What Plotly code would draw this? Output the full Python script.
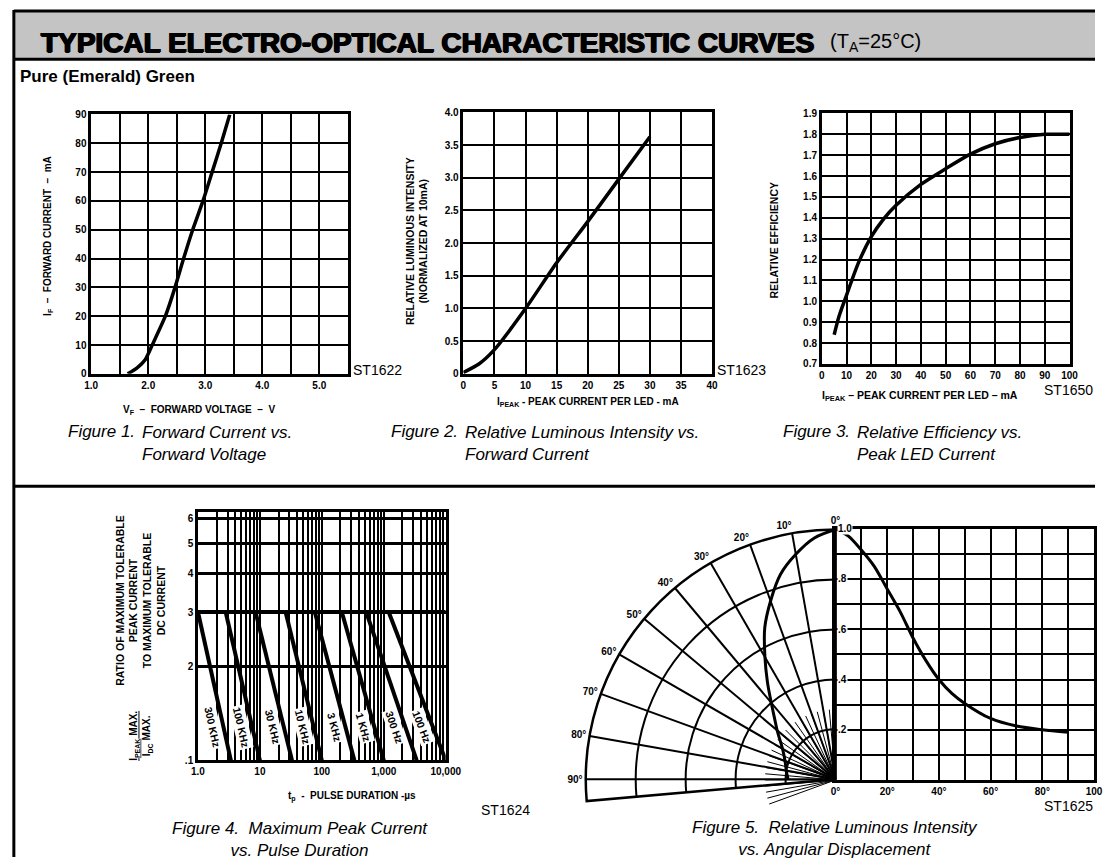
import math
import plotly.graph_objects as go

W, H = 1111, 863
FONT = "Liberation Sans"
NB = "\u00a0"

# ---------------- data ----------------
# Figure 1: forward current vs forward voltage
fig1_voltage = [1.64, 1.80, 1.95, 2.07, 2.30, 2.47, 2.62, 2.78, 2.96, 3.12, 3.28, 3.43]
fig1_current = [0, 2, 5, 10, 20, 30, 40, 50, 60, 70, 80, 90]
fig1_xticks = [1.0, 2.0, 3.0, 4.0, 5.0]
fig1_xlabels = ["1.0", "2.0", "3.0", "4.0", "5.0"]

# Figure 2: relative luminous intensity vs peak current
fig2_current = [0, 2.5, 5, 10, 15, 20, 25, 30]
fig2_intensity = [0.02, 0.15, 0.37, 1.0, 1.70, 2.33, 2.98, 3.63]
fig2_ylabels = ["0", "0.5", "1.0", "1.5", "2.0", "2.5", "3.0", "3.5", "4.0"]

# Figure 3: relative efficiency vs peak current
fig3_current = [5, 7, 10, 15, 20, 25, 30, 40, 50, 60, 70, 80, 90, 100]
fig3_eff = [0.84, 0.93, 1.03, 1.19, 1.31, 1.395, 1.46, 1.56, 1.635, 1.705, 1.755, 1.785, 1.80, 1.80]

# Figure 4: max peak current ratio vs pulse duration
pulse_freq_labels = ["300 KHz", "100 KHz", "30 KHz", "10 KHz", "3 KHz", "1 KHz", "300 Hz", "100 Hz"]
pulse_t_start = [1.0, 2.8, 8.5, 26, 77, 210, 520, 1200]
pulse_t_end = [3.4, 10, 33, 100, 335, 1000, 3400, 10000]
ratio_start = 3.0
ratio_end = 1.0
fig4_xlabels = ["1.0", "10", "100", "1,000", "10,000"]
fig4_yvals = [1, 2, 3, 4, 5, 6]
fig4_ylabels = [".1", "2", "3", "4", "5", "6"]

# Figure 5: relative luminous intensity vs angular displacement
angle_deg = [0, 5, 10, 15, 20, 25, 30, 35, 40, 45, 50, 60, 70, 80, 90]
rel_intensity = [1.0, 0.97, 0.915, 0.85, 0.76, 0.67, 0.565, 0.475, 0.40, 0.345, 0.305, 0.245, 0.215, 0.20, 0.19]
fig5_ylabel_vals = [0.2, 0.4, 0.6, 0.8, 1.0]
fig5_ylabels = [".2", ".4", ".6", ".8", "1.0"]


# ---------------- helpers ----------------
def dx(x):
    return x / W


def dy(y):
    return 1 - y / H


def tfont(size=10, bold=True, italic=False):
    return dict(family=FONT, size=size, color="black",
                weight="bold" if bold else "normal",
                style="italic" if italic else "normal")


def ann(text, x, y, size=10, bold=True, italic=False, xanchor="center",
        yanchor="middle", angle=0, align="center"):
    return dict(text=text, x=dx(x), y=dy(y), xref="paper", yref="paper",
                showarrow=False, font=tfont(size, bold, italic),
                xanchor=xanchor, yanchor=yanchor, textangle=angle, align=align)


def axis(domain_px, horizontal, **kw):
    a, b = domain_px
    dom = [dx(a), dx(b)] if horizontal else [dy(b), dy(a)]
    base = dict(domain=dom, showline=True, mirror=True, linecolor="black",
                linewidth=2.5, showgrid=True, gridcolor="black", gridwidth=2,
                zeroline=False, ticks="", tickfont=tfont(10), fixedrange=True)
    base.update(kw)
    return base


def sp(s):
    return s.replace(" – ", NB + NB + "–" + NB + NB).replace(" - ", NB + NB + "-" + NB + NB)


fig = go.Figure()
LINE = dict(color="black", width=3.5)

# Figure 1
fig.add_trace(go.Scatter(x=fig1_voltage, y=fig1_current, mode="lines",
                         line=dict(shape="spline", smoothing=0.6, **LINE),
                         xaxis="x", yaxis="y"))
# Figure 2
fig.add_trace(go.Scatter(x=fig2_current, y=fig2_intensity, mode="lines",
                         line=dict(shape="spline", smoothing=0.6, **LINE),
                         xaxis="x2", yaxis="y2"))
# Figure 3
fig.add_trace(go.Scatter(x=fig3_current, y=fig3_eff, mode="lines",
                         line=dict(shape="spline", smoothing=0.8, **LINE),
                         xaxis="x3", yaxis="y3"))
# Figure 4
fig.add_trace(go.Scatter(x=[pulse_t_start[0], 10000], y=[ratio_start, ratio_start],
                         mode="lines", line=dict(color="black", width=4),
                         xaxis="x4", yaxis="y4"))
for ts, te in zip(pulse_t_start, pulse_t_end):
    fig.add_trace(go.Scatter(x=[ts, te], y=[ratio_start, ratio_end], mode="lines",
                             line=dict(color="black", width=4),
                             xaxis="x4", yaxis="y4"))
# Figure 5
fig.add_trace(go.Scatterpolar(theta=[], r=[], subplot="polar2", mode="lines"))
fig.add_trace(go.Scatterpolar(theta=angle_deg, r=rel_intensity, mode="lines",
                              line=dict(color="black", width=3, shape="spline"),
                              subplot="polar"))
fig.add_trace(go.Scatter(x=angle_deg, y=rel_intensity, mode="lines",
                         line=dict(shape="spline", smoothing=0.8, color="black", width=3),
                         xaxis="x5", yaxis="y5"))

# ---------------- axes ----------------
f1_xt = [1.0 + 0.5 * i for i in range(10)]
f1_xl = [fig1_xlabels[fig1_xticks.index(v)] if v in fig1_xticks else "" for v in f1_xt]

f4_xt = [m * 10 ** d for d in range(4) for m in range(1, 10)] + [10000]
f4_xl = [fig4_xlabels[int(round(math.log10(v)))] if abs(math.log10(v) - round(math.log10(v))) < 1e-9 else ""
         for v in f4_xt]

f5_xt = list(range(0, 101, 10))
f5_xl = [("0°" if v == 0 else "100" if v == 100 else f"{v}°") if v % 20 == 0 else "" for v in f5_xt]

OX, OY = 846, 785   # polar origin (px)
R5 = 255            # polar radius (px)
RF = 72             # inner fan radius (px)
fig.update_layout(
    width=W, height=H, margin=dict(l=0, r=0, t=0, b=0),
    paper_bgcolor="white", plot_bgcolor="white", showlegend=False,
    xaxis=axis((86, 348), True, anchor="y", range=[1.0, 5.5], tickmode="array",
               tickvals=f1_xt, ticktext=f1_xl),
    yaxis=axis((110, 373), False, anchor="x", range=[0, 90], dtick=10),
    xaxis2=axis((466, 720), True, anchor="y2", range=[0, 40], dtick=5),
    yaxis2=axis((108, 373), False, anchor="x2", range=[0, 4.0], tickmode="array",
                tickvals=[0.5 * i for i in range(9)], ticktext=fig2_ylabels),
    xaxis3=axis((832, 1085), True, anchor="y3", range=[0, 100], dtick=10),
    yaxis3=axis((109, 363), False, anchor="x3", range=[0.7, 1.9], dtick=0.1,
                tickformat=".1f"),
    xaxis4=axis((195, 448), True, anchor="y4", type="log", range=[0, 4],
                tickmode="array", tickvals=f4_xt, ticktext=f4_xl, gridwidth=1.5),
    yaxis4=axis((513, 765), False, anchor="x4", type="log",
                range=[0, math.log10(6.3)], tickmode="array", tickvals=fig4_yvals,
                ticktext=fig4_ylabels, gridwidth=2.5),
    xaxis5=axis((OX, 1110), True, anchor="y5", range=[0, 100], tickmode="array",
                tickvals=f5_xt, ticktext=f5_xl),
    yaxis5=axis((OY - R5, OY), False, anchor="x5", range=[0, 1.0], dtick=0.1,
                showticklabels=False),
    polar=dict(
        domain=dict(x=[dx(OX - R5), dx(OX)],
                    y=[dy(OY + R5 * math.sin(math.radians(5))), dy(OY - R5)]),
        sector=[90, 185], bgcolor="rgba(0,0,0,0)",
        angularaxis=dict(rotation=90, direction="counterclockwise", tickmode="array",
                         tickvals=list(range(0, 100, 10)),
                         ticktext=[f"{a}°" for a in range(0, 100, 10)],
                         showline=True, linecolor="black", linewidth=2.5,
                         gridcolor="black", gridwidth=1.5, ticks="", tickfont=tfont(10)),
        radialaxis=dict(range=[0, 1], tickvals=[0.2, 0.4, 0.6, 0.8, 1.0],
                        showticklabels=False, ticks="", showline=False,
                        gridcolor="black", gridwidth=1.5),
    ),
    polar2=dict(
        domain=dict(x=[dx(OX - RF), dx(OX)],
                    y=[dy(OY + RF * math.sin(math.radians(20))), dy(OY - RF)]),
        sector=[90, 200], bgcolor="rgba(0,0,0,0)",
        angularaxis=dict(rotation=90, direction="counterclockwise", tickmode="array",
                         tickvals=list(range(0, 115, 5)), showticklabels=False,
                         showline=False, gridcolor="black", gridwidth=1.2, ticks=""),
        radialaxis=dict(range=[0, 1], showgrid=False, showticklabels=False,
                        showline=False, ticks=""),
    ),
)

# ---------------- frame shapes ----------------
shapes = [
    dict(type="rect", xref="paper", yref="paper", x0=dx(7), x1=dx(1111), y0=dy(54), y1=dy(5),
         fillcolor="#c4c4c4", line=dict(width=0), layer="below"),
    dict(type="line", xref="paper", yref="paper", x0=dx(7), x1=dx(1111), y0=dy(5), y1=dy(5),
         line=dict(color="black", width=3)),
    dict(type="line", xref="paper", yref="paper", x0=dx(7), x1=dx(1111), y0=dy(54), y1=dy(54),
         line=dict(color="black", width=3)),
    dict(type="line", xref="paper", yref="paper", x0=dx(7), x1=dx(7), y0=dy(4), y1=dy(863),
         line=dict(color="black", width=3)),
    dict(type="line", xref="paper", yref="paper", x0=dx(7), x1=dx(1111), y0=dy(487), y1=dy(487),
         line=dict(color="black", width=3)),
]
fig.update_layout(shapes=shapes)

# ---------------- text ----------------
anns = []
anns.append(dict(text="TYPICAL ELECTRO-OPTICAL CHARACTERISTIC CURVES", x=dx(33), y=dy(37),
                 xref="paper", yref="paper", showarrow=False, xanchor="left", yanchor="middle",
                 font=dict(family=FONT, size=28, color="black", weight="bold",
                           shadow="0.9px 0 0 #000, -0.9px 0 0 #000, 0 0.6px 0 #000")))
anns.append(dict(text="(T<sub>A</sub>=25°C)", x=dx(838), y=dy(37), xref="paper", yref="paper",
                 showarrow=False, xanchor="left", yanchor="middle",
                 font=dict(family=FONT, size=20, color="black")))
anns.append(ann("Pure (Emerald) Green", 11, 71, size=17, xanchor="left"))

# Figure 1 texts
anns.append(ann(sp("I<sub>F</sub> – FORWARD CURRENT – mA"), 42, 233, size=10, angle=-90))
anns.append(ann(sp("V<sub>F</sub> – FORWARD VOLTAGE – V"), 196, 410, size=10))
anns.append(ann("ST1622", 351, 369, size=14, bold=False, xanchor="left"))
# Figure 2 texts
anns.append(ann("RELATIVE LUMINOUS INTENSITY<br>(NORMALIZED AT 10mA)", 418, 238, size=10.5, angle=-90))
anns.append(ann("I<sub>PEAK</sub> - PEAK CURRENT PER LED - mA", 593, 402, size=10))
anns.append(ann("ST1623", 723, 369, size=14, bold=False, xanchor="left"))
# Figure 3 texts
anns.append(ann("RELATIVE EFFICIENCY", 783, 238, size=10.5, angle=-90))
anns.append(ann("I<sub>PEAK</sub> – PEAK CURRENT PER LED – mA", 932, 395, size=10.5))
anns.append(ann("ST1650", 1111, 389, size=14, bold=False, xanchor="right"))

# captions row 1
CAP = 17
for fx, fy, num, body in [(60, 432, "Figure 1.", "Forward Current vs.<br>Forward Voltage"),
                          (390, 432, "Figure 2.", "Relative Luminous Intensity vs.<br>Forward Current"),
                          (790, 432, "Figure 3.", "Relative Efficiency vs.<br>Peak LED Current")]:
    anns.append(ann(num, fx, fy, size=CAP, bold=False, italic=True, xanchor="left"))
    anns.append(ann(body, fx + 76, fy - 11, size=CAP, bold=False, italic=True, xanchor="left",
                    yanchor="top", align="left"))

# Figure 4 texts
anns.append(ann("RATIO OF MAXIMUM TOLERABLE<br>PEAK CURRENT<br>TO MAXIMUM TOLERABLE<br>DC CURRENT",
                136, 603, size=10.5, angle=-90))
anns.append(ann("<span style='text-decoration:underline'>I<sub>PEAK</sub> MAX.</span><br>I<sub>DC</sub> MAX.",
                137, 740, size=10, angle=-90))
anns.append(ann(sp("t<sub>p</sub> - PULSE DURATION -µs"), 352, 802, size=10))
anns.append(ann("ST1624", 482, 815, size=14, bold=False, xanchor="left"))
anns.append(ann("Figure 4.  Maximum Peak Current<br>vs. Pulse Duration", 299, 822, size=CAP,
                bold=False, italic=True, yanchor="top"))

# Figure 4 rotated frequency labels along the lines
xpx_per_dec = (448 - 195) / 4.0
ypx_per_dec = (765 - 513) / math.log10(6.3)
label_ratio = 1.28
for lab, ts, te in zip(pulse_freq_labels, pulse_t_start, pulse_t_end):
    ls, le = math.log10(ts), math.log10(te)
    frac = (math.log10(ratio_start) - math.log10(label_ratio)) / (math.log10(ratio_start) - math.log10(ratio_end))
    lx = ls + frac * (le - ls)
    ang = math.degrees(math.atan2(math.log10(ratio_start / ratio_end) * ypx_per_dec, (le - ls) * xpx_per_dec))
    anns.append(dict(text=lab, x=lx, y=math.log10(label_ratio), xref="x4", yref="y4",
                     showarrow=False, textangle=ang, xshift=-11, font=tfont(10.5),
                     bgcolor="white"))

# Figure 5 texts
for v, lab in zip(fig5_ylabel_vals, fig5_ylabels):
    anns.append(dict(text=lab, x=0, y=v, xref="x5", yref="y5", showarrow=False,
                     xanchor="left", yanchor="middle", xshift=2, font=tfont(10),
                     bgcolor="white", borderpad=0))
anns.append(ann("ST1625", 1111, 811, size=14, bold=False, xanchor="right"))
anns.append(ann("Figure 5.  Relative Luminous Intensity<br>vs. Angular Displacement", 845, 821,
                size=CAP, bold=False, italic=True, yanchor="top"))

fig.update_layout(annotations=anns)
fig.write_html("out.html", config={"displayModeBar": False},
               post_script="document.body.style.margin='0px';")
